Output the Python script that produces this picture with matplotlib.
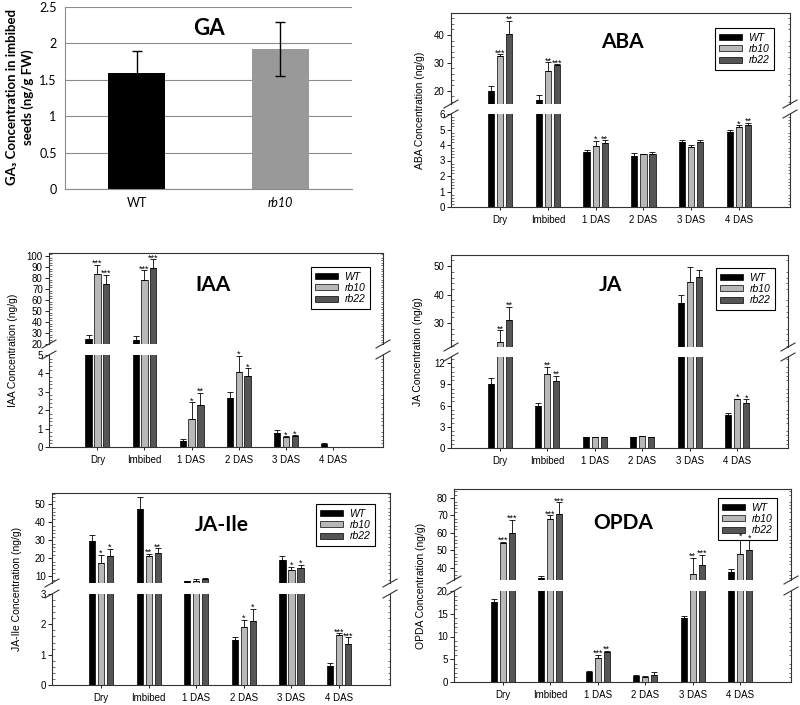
import numpy as np
import matplotlib
matplotlib.use('Agg')
from matplotlib import pyplot as plt
from matplotlib.lines import Line2D
from matplotlib.ticker import AutoMinorLocator

W, H = 800, 705

# Data
stages = ['Dry', 'Imbibed', '1 DAS', '2 DAS', '3 DAS', '4 DAS']
genotypes = ['WT', 'rb10', 'rb22']

ga_lines = ['WT', 'rb10']
ga_mean = [1.60, 1.92]
ga_err = [0.30, 0.37]

aba_mean = [[19.8, 16.8, 3.55, 3.30, 4.20, 4.85],
            [32.3, 27.0, 3.95, 3.40, 3.90, 5.15],
            [40.2, 29.2, 4.15, 3.45, 4.20, 5.30]]
aba_err = [[1.7, 1.8, 0.10, 0.20, 0.12, 0.10],
           [0.8, 3.2, 0.30, 0.05, 0.08, 0.12],
           [5.0, 0.3, 0.15, 0.10, 0.12, 0.12]]
aba_sig = [['***', '**', '*', '', '', '*'],
           ['**', '***', '**', '', '', '**']]

iaa_mean = [[24.5, 23.5, 0.33, 2.67, 0.78, 0.18],
            [84.0, 78.5, 1.50, 4.10, 0.55, 0.0],
            [74.5, 89.0, 2.28, 3.88, 0.60, 0.0]]
iaa_err = [[3.5, 3.5, 0.12, 0.30, 0.12, 0.03],
           [8.0, 8.5, 0.92, 0.85, 0.03, 0.0],
           [8.5, 8.0, 0.65, 0.40, 0.03, 0.0]]
iaa_sig = [['***', '***', '*', '*', '*', ''],
           ['***', '***', '**', '*', '*', '']]

ja_mean = [[9.0, 6.0, 1.6, 1.60, 37.0, 4.7],
           [23.5, 10.5, 1.6, 1.65, 44.5, 6.9],
           [31.0, 9.5, 1.6, 1.62, 46.3, 6.4]]
ja_err = [[0.85, 0.4, 0, 0, 2.8, 0.30],
          [4.0, 1.0, 0, 0, 5.3, 0.05],
          [4.7, 0.7, 0, 0, 2.2, 0.45]]
ja_sig = [['**', '**', '', '', '', '*'],
          ['**', '**', '', '', '', '*']]

jaile_mean = [[29.5, 47.5, 7.3, 1.5, 19.0, 0.62],
              [17.5, 21.0, 7.5, 1.9, 13.5, 1.65],
              [21.0, 23.0, 8.5, 2.1, 14.5, 1.35]]
jaile_err = [[3.5, 6.5, 0.3, 0.08, 2.0, 0.10],
             [4.5, 1.5, 0.8, 0.25, 1.8, 0.05],
             [4.3, 2.5, 0.3, 0.40, 2.0, 0.22]]
jaile_sig = [['*', '**', '', '*', '*', '***'],
             ['*', '**', '', '*', '*', '***']]

opda_mean = [[17.5, 34.0, 2.3, 1.3, 14.0, 37.5],
             [54.0, 68.0, 5.2, 1.2, 36.5, 48.0],
             [60.0, 71.0, 6.6, 1.5, 41.5, 50.0]]
opda_err = [[0.8, 1.0, 0.05, 0.15, 0.5, 1.5],
            [1.0, 2.0, 0.80, 0.05, 9.0, 9.5],
            [7.5, 6.5, 0.30, 0.80, 6.0, 6.0]]
opda_sig = [['***', '***', '***', '', '**', '*'],
            ['***', '***', '**', '', '***', '*']]

colors = ['#000000', '#b8b8b8', '#555555']
offsets = [-0.19, 0.0, 0.19]
bar_w = 0.13

plt.rcParams['font.family'] = ['Liberation Sans', 'DejaVu Sans']
fig = plt.figure(figsize=(W/100, H/100), dpi=100)


def px_axes(left, top, right, bottom):
    return fig.add_axes([left/W, 1 - bottom/H, (right - left)/W, (bottom - top)/H])


def break_mark(x, y):
    fig.add_artist(Line2D([(x - 7)/W, (x + 7)/W], [1 - (y + 4)/H, 1 - (y - 4)/H],
                          color='#333333', lw=0.8, transform=fig.transFigure))


def broken_panel(box, split, up_lim, lo_lim, up_ticks, lo_ticks, means, errs, sigs,
                 title, title_xy, ylabel, ylabel_x, leg_anchor):
    left, top, right, bottom = box
    up_bottom, lo_top = split
    ax_up = px_axes(left, top, right, up_bottom)
    ax_lo = px_axes(left, lo_top, right, bottom)
    x = np.arange(len(stages))
    handles = []
    for ax in (ax_up, ax_lo):
        handles = []
        for j in range(3):
            xs = x + offsets[j]
            b = ax.bar(xs, means[j], width=bar_w, color=colors[j], edgecolor='black',
                       linewidth=0.5, label=genotypes[j])
            handles.append(b)
            ax.errorbar(xs, means[j], yerr=[np.zeros(len(stages)), errs[j]], fmt='none',
                        ecolor='black', elinewidth=0.6, capsize=2.2, capthick=0.6)
        ax.set_xlim(-1.03, 6.07)
        for s in ax.spines.values():
            s.set_linewidth(0.8)
            s.set_color('#333333')
        ax.yaxis.set_minor_locator(AutoMinorLocator(5))
        ax.tick_params(axis='y', which='major', labelsize=7, length=3, width=0.6, pad=1.5)
        ax.tick_params(axis='y', which='minor', direction='in', length=1.8, width=0.4, right=True)
    ax_up.set_ylim(*up_lim)
    ax_lo.set_ylim(*lo_lim)
    ax_up.set_yticks(up_ticks)
    ax_lo.set_yticks(lo_ticks)
    ax_up.spines['bottom'].set_visible(False)
    ax_lo.spines['top'].set_visible(False)
    ax_up.set_xticks([])
    ax_lo.set_xticks(x)
    ax_lo.set_xticklabels(stages)
    ax_lo.tick_params(axis='x', labelsize=7, length=2.5, width=0.6, pad=3)

    # significance stars
    for k, j in enumerate((1, 2)):
        for i in range(len(stages)):
            if not sigs[k][i]:
                continue
            topv = means[j][i] + errs[j][i]
            ax = ax_up if topv > lo_lim[1] else ax_lo
            ax.annotate(sigs[k][i], (i + offsets[j], topv), xytext=(0, -2.2),
                        textcoords='offset points', ha='center', va='bottom',
                        fontsize=6.5, annotation_clip=False, zorder=8)

    for xx in (left, right):
        break_mark(xx, up_bottom)
        break_mark(xx, lo_top)

    fig.text(title_xy[0]/W, 1 - title_xy[1]/H, title, fontsize=15, fontweight='bold',
             family=['Lato', 'DejaVu Sans'], ha='center', va='center')
    fig.text(ylabel_x/W, 1 - (top + bottom)/2/H, ylabel, rotation=90, fontsize=7.5,
             ha='center', va='center')
    leg = ax_up.legend(handles=handles, loc='upper right',
                       bbox_to_anchor=(leg_anchor[0]/W, 1 - leg_anchor[1]/H),
                       bbox_transform=fig.transFigure, prop={'style': 'italic', 'size': 7.5},
                       handlelength=2.2, handleheight=0.5, handletextpad=0.6,
                       labelspacing=0.12, borderpad=0.45, fancybox=False, framealpha=1)
    leg.get_frame().set_edgecolor('black')
    leg.get_frame().set_linewidth(0.8)


# GA panel
ax = px_axes(65, 7, 352, 189)
ax.bar([0, 1], ga_mean, width=0.40, color=['#000000', '#999999'], zorder=2)
ax.errorbar([0, 1], ga_mean, yerr=ga_err, fmt='none', ecolor='black', elinewidth=1,
            capsize=3.5, capthick=1, zorder=3)
ax.set_xlim(-0.5, 1.5)
ax.set_ylim(0, 2.5)
ax.set_yticks(np.arange(0, 2.51, 0.5))
ax.set_yticklabels(['0', '0.5', '1', '1.5', '2', '2.5'])
ax.yaxis.grid(True, color='#8c8c8c', lw=0.8, zorder=0)
ax.set_axisbelow(True)
for side in ('top', 'right'):
    ax.spines[side].set_visible(False)
for side in ('left', 'bottom'):
    ax.spines[side].set_color('#8c8c8c')
    ax.spines[side].set_linewidth(0.8)
ax.set_xticks([0, 1])
ax.set_xticklabels(ga_lines)
ax.get_xticklabels()[1].set_style('italic')
ax.tick_params(axis='both', labelsize=9, length=0, pad=6)
for t in ax.get_xticklabels() + ax.get_yticklabels():
    t.set_family(['Lato', 'DejaVu Sans'])
ax.text(0.5, 0.88, 'GA', transform=ax.transAxes, fontsize=16, fontweight='bold',
        family=['Lato', 'DejaVu Sans'], ha='center', va='center')
fig.text(20/W, 1 - 97/H, 'GA₃ Concentration in imbibed\nseeds (ng/g FW)', rotation=90,
         fontsize=9.5, fontweight='bold', family=['Lato', 'DejaVu Sans'],
         ha='center', va='center', linespacing=1.3)

broken_panel((451, 13, 790, 207), (104, 114), (15.2, 47.9), (0, 6),
             [20, 30, 40], [0, 1, 2, 3, 4, 5, 6], aba_mean, aba_err, aba_sig,
             'ABA', (622, 42), 'ABA Concentration (ng/g)', 420, (779, 23))

broken_panel((49, 253, 383, 447), (344, 355), (20, 102.7), (0, 5),
             list(range(20, 101, 10)), [0, 1, 2, 3, 4, 5], iaa_mean, iaa_err, iaa_sig,
             'IAA', (213, 285), 'IAA Concentration (ng/g)', 13, (375, 262))

broken_panel((451, 255, 788, 448), (347, 357), (21.6, 53.9), (0, 12.85),
             [30, 40, 50], [0, 3, 6, 9, 12], ja_mean, ja_err, ja_sig,
             'JA', (610, 285), 'JA Concentration (ng/g)', 418, (780, 263))

broken_panel((52, 493, 390, 685), (583, 594), (6.26, 56.3), (0, 3),
             [10, 20, 30, 40, 50], [0, 1, 2, 3], jaile_mean, jaile_err, jaile_sig,
             'JA-Ile', (222, 525), 'JA-Ile Concentration (ng/g)', 17, (380, 499))

broken_panel((454, 489, 791, 682), (580, 591), (32.9, 85.2), (0, 20),
             [40, 50, 60, 70, 80], [0, 5, 10, 15, 20], opda_mean, opda_err, opda_sig,
             'OPDA', (623, 523), 'OPDA Concentration (ng/g)', 421, (782, 493))

fig.savefig('out.png', dpi=100)
